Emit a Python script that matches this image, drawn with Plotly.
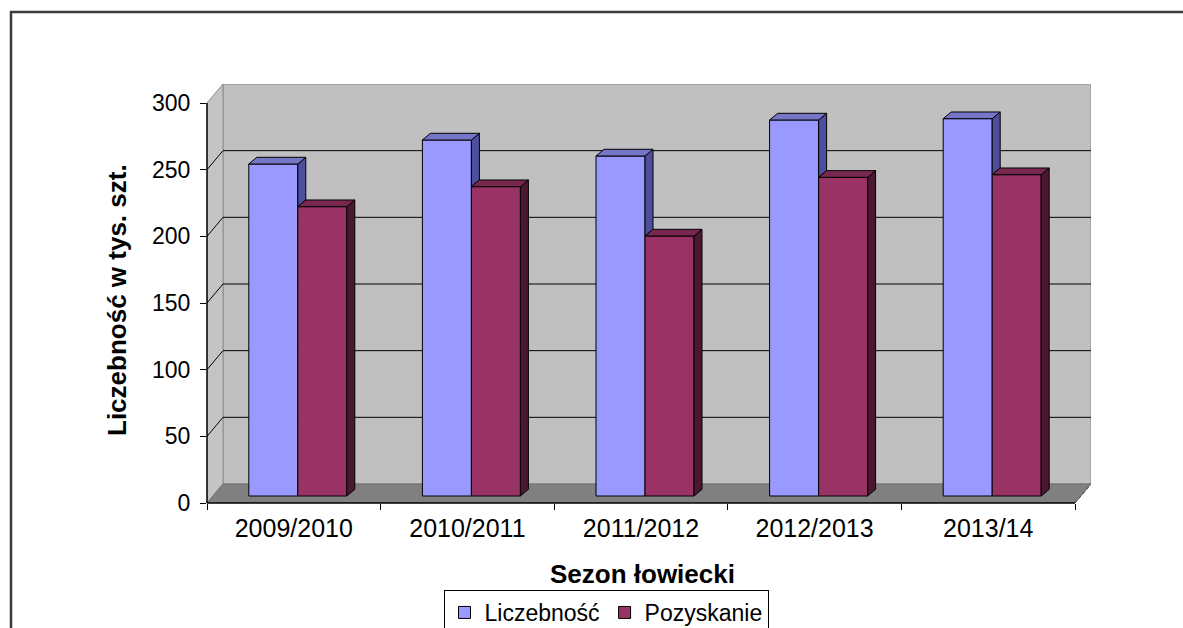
import plotly.graph_objects as go

# ---------------- data ----------------
seasons = ["2009/2010", "2010/2011", "2011/2012", "2012/2013", "2013/14"]
liczebnosc = [249, 267, 255, 282, 283]
pozyskanie = [217, 232, 195, 239, 241]
y_ticks = [0, 50, 100, 150, 200, 250, 300]
series_names = ["Liczebność", "Pozyskanie"]

# ---------------- geometry (pixel based oblique 3D look) ----------------
W, H = 1183, 628
L_PX, R_PX, T_PX, B_PX = 207, 1091, 84, 503
n = len(seasons)
PX_X = (1075 - L_PX) / n          # px per category
PX_Y = 400 / 300                  # px per value unit
Y_MAX = (B_PX - T_PX) / PX_Y
DY = Y_MAX - 300                  # wall depth (value units)
DX = 16 / PX_X                    # wall depth (category units)
X_MAX = n + DX
SX = 4 / PX_X                     # bar front-plane shift
ZF = 7 / PX_Y
BW = 49 / PX_X                    # bar width
BDX = 8 / PX_X                    # bar depth
BDY = 6.7 / PX_Y

cx = [i + 0.5 for i in range(n)]

BLUE = dict(front="#9999FF", top="#7676C8", side="#4E4E9E")
RED = dict(front="#993366", top="#78284F", side="#4A1830")

fig = go.Figure()

# front faces (real bar traces)
fig.add_trace(go.Bar(name=series_names[0], x=[c + SX for c in cx], y=liczebnosc,
                     base=ZF, width=BW, offset=-BW,
                     marker=dict(color=BLUE["front"], line=dict(color="black", width=1))))
fig.add_trace(go.Bar(name=series_names[1], x=[c + SX for c in cx], y=pozyskanie,
                     base=ZF, width=BW, offset=0,
                     marker=dict(color=RED["front"], line=dict(color="black", width=1))))


def poly_trace(xs, ys, color):
    return go.Scatter(x=xs, y=ys, mode="lines", fill="toself", fillcolor=color,
                      line=dict(color="black", width=1), hoverinfo="skip",
                      showlegend=False)


# top faces & side faces derived from the data
bt_x, bt_y, bs_x, bs_y, rt_x, rt_y, rs_x, rs_y = ([] for _ in range(8))
for c, vb, vr in zip(cx, liczebnosc, pozyskanie):
    xb0 = c + SX - BW
    xb1 = c + SX
    xr1 = c + SX + BW
    tb = ZF + vb
    tr = ZF + vr
    bt_x += [xb0, xb1, xb1 + BDX, xb0 + BDX, xb0, None]
    bt_y += [tb, tb, tb + BDY, tb + BDY, tb, None]
    lo = ZF + min(vb, vr)
    bs_x += [xb1, xb1, xb1 + BDX, xb1 + BDX, xb1, None]
    bs_y += [lo, tb, tb + BDY, lo + BDY, lo, None]
    rt_x += [xb1, xr1, xr1 + BDX, xb1 + BDX, xb1, None]
    rt_y += [tr, tr, tr + BDY, tr + BDY, tr, None]
    rs_x += [xr1, xr1, xr1 + BDX, xr1 + BDX, xr1, None]
    rs_y += [ZF, tr, tr + BDY, ZF + BDY, ZF, None]

fig.add_trace(poly_trace(bs_x, bs_y, BLUE["side"]))
fig.add_trace(poly_trace(bt_x, bt_y, BLUE["top"]))
fig.add_trace(poly_trace(rs_x, rs_y, RED["side"]))
fig.add_trace(poly_trace(rt_x, rt_y, RED["top"]))

# ---------------- walls, floor, gridlines ----------------
shapes = []
shapes.append(dict(type="rect", xref="x", yref="y", x0=DX, x1=X_MAX, y0=DY, y1=Y_MAX,
                   fillcolor="#C0C0C0", line=dict(color="#8C8C8C", width=1), layer="below"))
shapes.append(dict(type="path", xref="x", yref="y",
                   path=f"M 0,0 L {DX},{DY} L {DX},{Y_MAX} L 0,{y_ticks[-1]} Z",
                   fillcolor="#C4C4C4", line=dict(color="#8C8C8C", width=1), layer="below"))
shapes.append(dict(type="path", xref="x", yref="y",
                   path=f"M 0,0 L {n},0 L {X_MAX},{DY} L {DX},{DY} Z",
                   fillcolor="#808080", line=dict(color="#707070", width=1), layer="below"))
for v in y_ticks[1:-1]:
    shapes.append(dict(type="line", xref="x", yref="y", x0=0, y0=v, x1=DX, y1=v + DY,
                       line=dict(color="black", width=1), layer="below"))
    shapes.append(dict(type="line", xref="x", yref="y", x0=DX, y0=v + DY, x1=X_MAX, y1=v + DY,
                       line=dict(color="black", width=1), layer="below"))
# axis lines
shapes.append(dict(type="line", xref="paper", yref="y", x0=0, x1=0, y0=0, y1=y_ticks[-1],
                   line=dict(color="black", width=1.5)))
shapes.append(dict(type="line", xref="x", yref="paper", x0=0, x1=n, y0=0, y1=0,
                   line=dict(color="black", width=1.5)))
shapes.append(dict(type="line", xref="x", yref="y", x0=n, y0=0, x1=X_MAX, y1=DY,
                   line=dict(color="#404040", width=1, dash="dot")))
# outer chart frame
pw = R_PX - L_PX
ph = B_PX - T_PX
shapes.append(dict(type="rect", xref="paper", yref="paper",
                   x0=(11 - L_PX) / pw, x1=(1200 - L_PX) / pw,
                   y0=(B_PX - 660) / ph, y1=(B_PX - 12) / ph,
                   line=dict(color="#3C3C3C", width=2.5), fillcolor="rgba(0,0,0,0)"))

FONT = "Liberation Sans, Arial, sans-serif"

fig.update_layout(
    width=W, height=H,
    margin=dict(l=L_PX, r=W - R_PX, t=T_PX, b=H - B_PX, pad=0, autoexpand=False),
    paper_bgcolor="white", plot_bgcolor="white",
    font=dict(family=FONT, color="black"),
    barmode="overlay",
    shapes=shapes,
    showlegend=True,
    legend=dict(orientation="h", xref="container", yref="container",
                x=606 / W, xanchor="center", y=1 - 590 / H, yanchor="top",
                bordercolor="black", borderwidth=1, bgcolor="white",
                font=dict(size=23, family=FONT), itemwidth=30, traceorder="normal"),
    xaxis=dict(range=[0, X_MAX], tickvals=cx, ticktext=seasons, ticks="",
               showgrid=False, zeroline=False, showline=False,
               tickfont=dict(size=25, family=FONT), ticklabelstandoff=8,
               minor=dict(tickvals=list(range(n + 1)), ticks="outside", ticklen=6,
                          tickcolor="black", tickwidth=1, showgrid=False),
               automargin=False, fixedrange=True),
    yaxis=dict(range=[0, Y_MAX], tickvals=y_ticks, ticks="outside", ticklen=6,
               tickcolor="black", tickwidth=1, showgrid=False, zeroline=False,
               showline=False, tickfont=dict(size=23, family=FONT),
               ticklabelstandoff=5, automargin=False, fixedrange=True),
    annotations=[
        dict(text="<b>Sezon łowiecki</b>", xref="paper", yref="paper",
             x=(642 - L_PX) / pw, y=(B_PX - 574) / ph, xanchor="center", yanchor="middle",
             showarrow=False, font=dict(size=26, family=FONT)),
        dict(text="<b>Liczebność w tys. szt.</b>", xref="paper", yref="paper",
             x=(117 - L_PX) / pw, y=(B_PX - 300) / ph, xanchor="center", yanchor="middle",
             textangle=-90, showarrow=False, font=dict(size=26, family=FONT)),
    ],
)

fig.write_html("out.html", config={"displayModeBar": False},
               post_script="document.body.style.margin='0';document.body.style.overflow='hidden';")
